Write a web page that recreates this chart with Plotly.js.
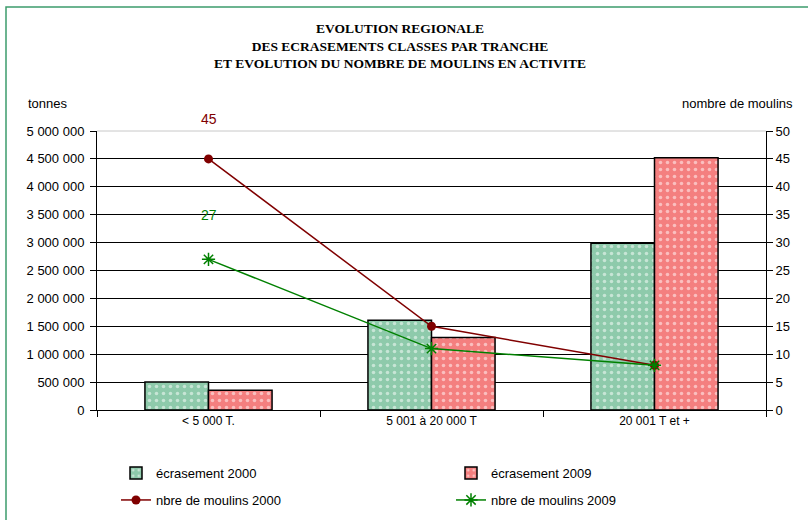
<!DOCTYPE html>
<html>
<head>
<meta charset="utf-8">
<script src="https://cdn.plot.ly/plotly-3.0.1.min.js"></script>
<style>html,body{margin:0;padding:0;background:#fff;}#chart{width:808px;height:520px;}</style>
</head>
<body>
<div id="chart"></div>
<script>
const categories = ["< 5 000 T.", "5 001 à 20 000 T", "20 001 T et +"];
const ecrasement2000 = [500000, 1610000, 2990000];
const ecrasement2009 = [355000, 1300000, 4520000];
const moulins2000 = [45, 15, 8];
const moulins2009 = [27, 11, 8];
const yTickVals = [0, 500000, 1000000, 1500000, 2000000, 2500000, 3000000, 3500000, 4000000, 4500000, 5000000];
const y2TickVals = [0, 5, 10, 15, 20, 25, 30, 35, 40, 45, 50];

const greenFill = '#8ecaab';
const redFill = '#f47f7f';
const darkRed = '#800000';
const green = '#008000';

const traces = [
  {type:'bar', name:'écrasement 2000', x:categories, y:ecrasement2000, legend:'legend',
   marker:{color:greenFill, line:{color:'#000', width:1.5},
     pattern:{shape:'.', fgcolor:'#ffffff', size:7, solidity:0.2, fillmode:'overlay'}}},
  {type:'bar', name:'écrasement 2009', x:categories, y:ecrasement2009, legend:'legend',
   marker:{color:redFill, line:{color:'#000', width:1.5},
     pattern:{shape:'.', fgcolor:'#ffffff', size:7, solidity:0.2, fillmode:'overlay'}}},
  {type:'scatter', mode:'lines+markers', name:'nbre de moulins 2000', x:categories, y:moulins2000, yaxis:'y2', legend:'legend2',
   line:{color:darkRed, width:1.5}, marker:{symbol:'circle', size:9, color:darkRed}},
  {type:'scatter', mode:'lines+markers', name:'nbre de moulins 2009', x:categories, y:moulins2009, yaxis:'y2', legend:'legend2',
   line:{color:green, width:1.5}, marker:{symbol:'asterisk-open', size:11, color:green, line:{color:green, width:1.5}}}
];

const W = 808, H = 520, L = 97, R = 42, T = 131, B = 110;
const pw = W - L - R, ph = H - T - B;
function px2paperX(p){ return (p - L) / pw; }
function px2paperY(p){ return (H - B - p) / ph; }

const legendCommon = {orientation: 'h', xref: 'container', yref: 'container', xanchor: 'left', yanchor: 'middle',
  entrywidth: 290, entrywidthmode: 'pixels', font: {size: 13}, bgcolor: 'rgba(0,0,0,0)', traceorder: 'normal'};

const layout = {
  width: W, height: H,
  margin: {l: L, r: R, t: T, b: B},
  paper_bgcolor: '#fff', plot_bgcolor: '#fff',
  separators: ', ',
  font: {family: 'Liberation Sans, Arial, sans-serif', size: 12, color: '#000'},
  title: {text: 'EVOLUTION REGIONALE<br>DES ECRASEMENTS CLASSES PAR TRANCHE<br>ET EVOLUTION DU NOMBRE DE MOULINS EN ACTIVITE',
    font: {family: 'Liberation Serif, Times New Roman, serif', size: 13.5, color: '#000', weight: 'bold'},
    x: 400/808, xanchor: 'center', xref: 'container', y: 1 - 33/520, yanchor: 'top', yref: 'container'},
  barmode: 'group', bargap: 0.43, bargroupgap: 0,
  xaxis: {type: 'category', showline: true, linecolor: '#000', linewidth: 1, ticks: 'outside', tickson: 'boundaries',
    ticklen: 6, tickcolor: '#000', showgrid: false, tickfont: {size: 12}, zeroline: false, fixedrange: true},
  yaxis: {range: [0, 5000000], tickvals: yTickVals, tickformat: ',d', showline: true, linecolor: '#000', linewidth: 1,
    ticks: 'outside', ticklen: 6, tickcolor: '#000', showgrid: true, gridcolor: '#000', gridwidth: 1, zeroline: false,
    tickfont: {size: 13}, ticklabelstandoff: 3, fixedrange: true},
  yaxis2: {range: [0, 50], tickvals: y2TickVals, overlaying: 'y', side: 'right', showline: true, linecolor: '#000', linewidth: 1,
    ticks: 'outside', ticklen: 6, tickcolor: '#000', showgrid: false, zeroline: false, tickfont: {size: 13}, fixedrange: true},
  legend: Object.assign({}, legendCommon, {x: 116/808, y: 1 - 473/520}),
  legend2: Object.assign({}, legendCommon, {x: 116/808, y: 1 - 500/520}),
  annotations: [
    {text: 'tonnes', xref: 'paper', yref: 'paper', x: 0, y: 1, xanchor: 'center', yanchor: 'middle', xshift: -49, yshift: 28,
     showarrow: false, font: {size: 13}},
    {text: 'nombre de moulins', xref: 'paper', yref: 'paper', x: 1, y: 1, xanchor: 'right', yanchor: 'middle', xshift: 29, yshift: 28,
     showarrow: false, font: {size: 13}},
    {text: String(moulins2000[0]), x: categories[0], y: moulins2000[0], xref: 'x', yref: 'y2', yshift: 40, showarrow: false,
     font: {size: 14, color: darkRed}},
    {text: String(moulins2009[0]), x: categories[0], y: moulins2009[0], xref: 'x', yref: 'y2', yshift: 44, showarrow: false,
     font: {size: 14, color: green}}
  ],
  shapes: [
    {type: 'line', xref: 'paper', yref: 'paper', x0: 0, x1: 1, y0: 1, y1: 1, line: {color: '#c8c8c8', width: 1}, layer: 'above'},
    {type: 'rect', xref: 'paper', yref: 'paper', x0: px2paperX(6), x1: px2paperX(830), y0: px2paperY(540), y1: px2paperY(7),
     line: {color: '#3c9c6c', width: 1.5}, fillcolor: 'rgba(0,0,0,0)', layer: 'below'}
  ],
  showlegend: true
};

Plotly.newPlot('chart', traces, layout, {displayModeBar: false, staticPlot: true});
</script>
</body>
</html>
